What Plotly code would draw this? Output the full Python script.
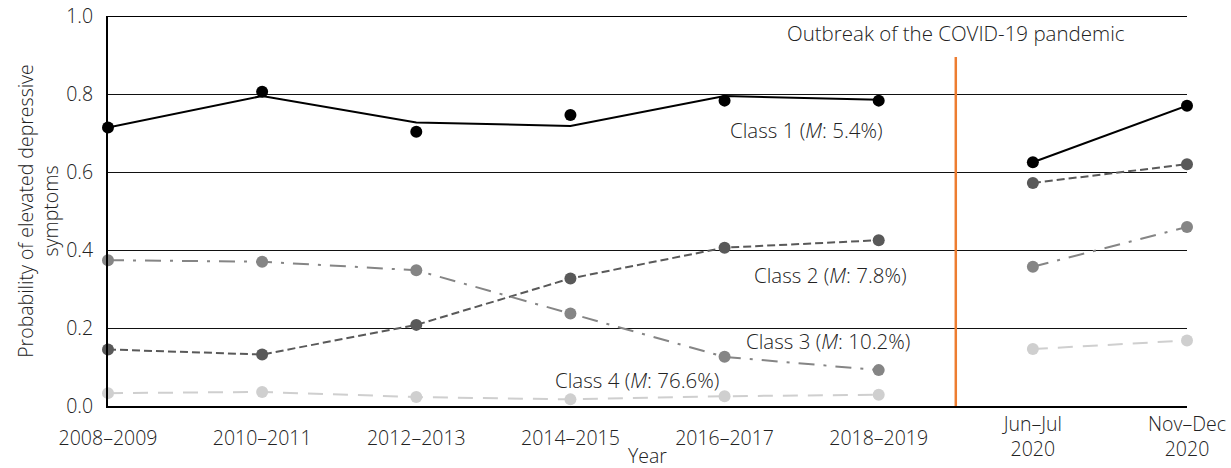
import plotly.graph_objects as go

# ---- data ----
periods = ["2008–2009", "2010–2011", "2012–2013", "2014–2015", "2016–2017",
           "2018–2019", "Jun–Jul<br>2020", "Nov–Dec<br>2020"]
class1_observed = [0.714, 0.806, 0.703, 0.746, 0.783, 0.783, 0.625, 0.770]
class1_estimated = [0.714, 0.795, 0.727, 0.718, 0.795, 0.785, 0.625, 0.770]
class2 = [0.145, 0.132, 0.208, 0.327, 0.406, 0.425, 0.572, 0.620]
class3 = [0.374, 0.370, 0.348, 0.237, 0.126, 0.092, 0.357, 0.459]
class4 = [0.033, 0.036, 0.023, 0.017, 0.025, 0.029, 0.146, 0.168]
class_labels = ["Class 1 (<i>M</i>: 5.4%)", "Class 2 (<i>M</i>: 7.8%)",
                "Class 3 (<i>M</i>: 10.2%)", "Class 4 (<i>M</i>: 76.6%)"]
outbreak_label = "Outbreak of the COVID-19 pandemic"
x_title = "Year"
y_title = "Probability of elevated depressive<br>symptoms"
n_pre = 6  # number of pre-pandemic waves

FONT = "Open Sans"
TXT = "#222222"
FS = 19.5
FS_ANN = 20.5

xpos = list(range(len(periods)))


def split(vals):
    # break the line between pre-pandemic waves and 2020 waves
    xs = xpos[:n_pre] + [None] + xpos[n_pre:]
    ys = list(vals[:n_pre]) + [None] + list(vals[n_pre:])
    return xs, ys


fig = go.Figure()

styles = [
    (class2, "#595959", "8px,4px"),
    (class3, "#858585", "16px,9px,3px,9px"),
    (class4, "#cfcfcf", "15px,10px"),
]
for vals, col, dash in styles:
    xs, ys = split(vals)
    fig.add_trace(go.Scatter(x=xs, y=ys, mode="lines+markers",
                             line=dict(color=col, width=2, dash=dash),
                             marker=dict(color=col, size=12),
                             connectgaps=False, cliponaxis=False,
                             showlegend=False))

xs, ys = split(class1_estimated)
fig.add_trace(go.Scatter(x=xs, y=ys, mode="lines",
                         line=dict(color="black", width=2),
                         connectgaps=False, cliponaxis=False, showlegend=False))
fig.add_trace(go.Scatter(x=xpos, y=class1_observed, mode="markers",
                         marker=dict(color="black", size=12),
                         cliponaxis=False, showlegend=False))

# invisible trace so the overlaying axis for the 2020 waves is drawn
fig.add_trace(go.Scatter(x=xpos[n_pre:], y=class1_observed[n_pre:], xaxis="x2",
                         mode="markers", marker=dict(opacity=0),
                         hoverinfo="skip", showlegend=False))

# heavier top rule at 1.0
fig.add_shape(type="line", x0=0, x1=1, xref="paper", y0=1, y1=1, yref="y",
              line=dict(color="black", width=2), layer="below")

# outbreak line
fig.add_shape(type="line", x0=n_pre - 0.5, x1=n_pre - 0.5, y0=0, y1=0.895,
              xref="x", yref="y", line=dict(color="#ED7D31", width=2.5))

fig.add_annotation(x=n_pre - 0.5, y=0.957, text=outbreak_label, showarrow=False,
                   font=dict(family=FONT, size=FS_ANN, color=TXT, weight=300))

label_pos = [(4.53, 0.708), (4.69, 0.335), (4.67, 0.166), (3.43, 0.066)]
for (lx, ly), t in zip(label_pos, class_labels):
    fig.add_annotation(x=lx, y=ly, text=t, showarrow=False,
                       font=dict(family=FONT, size=FS_ANN, color=TXT, weight=300))

# x-axis title placed below the tick labels
fig.add_annotation(x=0.5, xref="paper", y=0, yref="paper", yshift=-65,
                   text=x_title, showarrow=False,
                   font=dict(family=FONT, size=FS, color=TXT, weight=300))

fig.update_layout(
    width=1231, height=468,
    margin=dict(l=108, r=44, t=16, b=62),
    plot_bgcolor="white", paper_bgcolor="white",
    font=dict(family=FONT, size=FS, color=TXT, weight=300),
    xaxis=dict(
        range=[0, 7], tickvals=xpos[:n_pre], ticktext=periods[:n_pre],
        showgrid=False, zeroline=False, automargin=False,
        showline=True, linecolor="black", linewidth=2,
        ticks="", ticklabelstandoff=14,
        tickfont=dict(size=FS, weight=300),
    ),
    xaxis2=dict(
        range=[0, 7], overlaying="x", anchor="y", side="bottom",
        tickvals=xpos[n_pre:], ticktext=periods[n_pre:],
        showgrid=False, zeroline=False, automargin=False, showline=False,
        ticks="", ticklabelstandoff=4,
        tickfont=dict(size=FS, weight=300),
    ),
    yaxis=dict(
        range=[0, 1], tickvals=[0, 0.2, 0.4, 0.6, 0.8, 1.0], tickformat=".1f",
        showgrid=True, gridcolor="#111111", gridwidth=1, automargin=False,
        zeroline=False, showline=True, linecolor="black", linewidth=2,
        ticks="", ticklabelstandoff=9, tickfont=dict(size=FS, weight=300),
        title=dict(text=y_title, font=dict(size=FS, weight=300), standoff=2),
    ),
)

fig.write_html("out.html", config={"displayModeBar": False},
               post_script="document.body.style.margin='0';")
